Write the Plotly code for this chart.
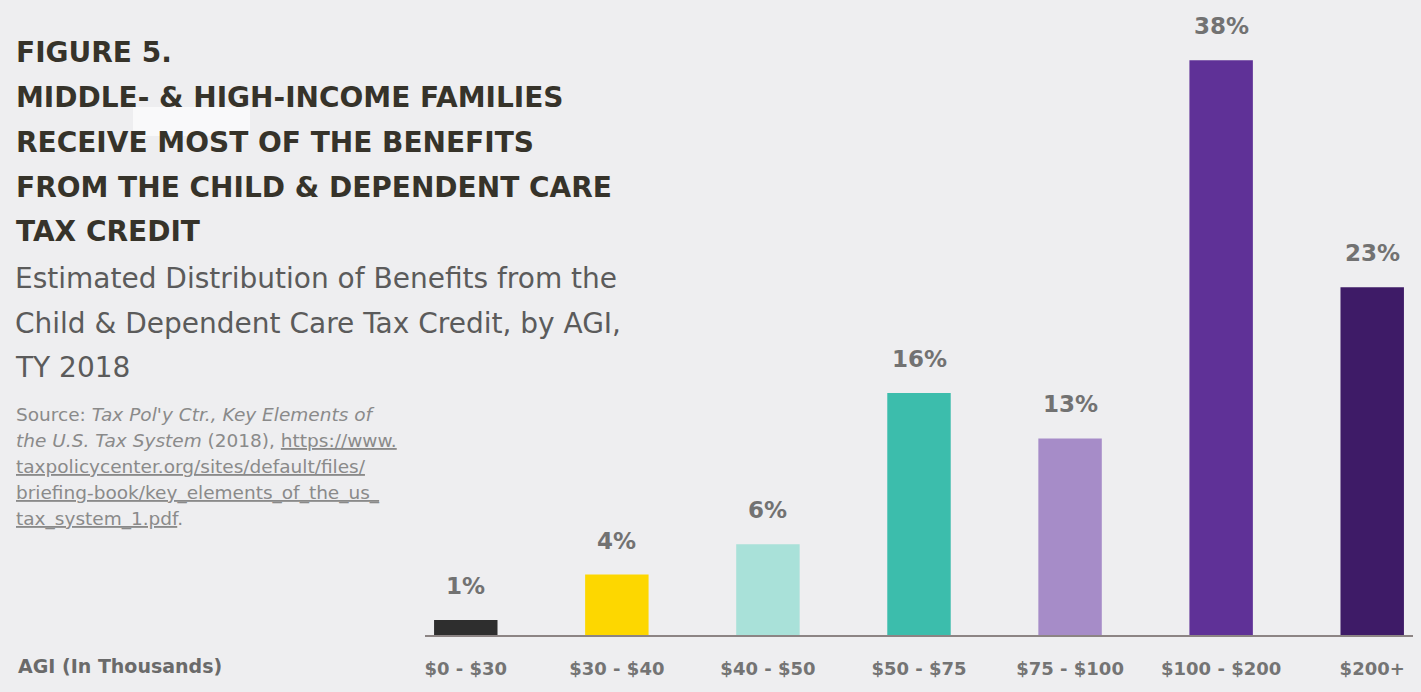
import plotly.graph_objects as go

# Share of the credit's benefits by adjusted gross income bracket
brackets = ["$0 - $30", "$30 - $40", "$40 - $50", "$50 - $75", "$75 - $100", "$100 - $200", "$200+"]
share_pct = [1, 4, 6, 16, 13, 38, 23]
bar_colors = ["#2e2e2e", "#fdd700", "#a9e1d9", "#3cbdac", "#a68cc8", "#5f3197", "#3e1b67"]

title_lines = [
    "FIGURE 5.",
    "MIDDLE- & HIGH-INCOME FAMILIES",
    "RECEIVE MOST OF THE BENEFITS",
    "FROM THE CHILD & DEPENDENT CARE",
    "TAX CREDIT",
]
subtitle_lines = [
    "Estimated Distribution of Benefits from the",
    "Child & Dependent Care Tax Credit, by AGI,",
    "TY 2018",
]
source_lines = [
    "Source: <i>Tax Pol'y Ctr., Key Elements of</i>",
    "<i>the U.S. Tax System</i> (2018), <u>https://www.</u>",
    "<u>taxpolicycenter.org/sites/default/files/</u>",
    "<u>briefing-book/key_elements_of_the_us_</u>",
    "<u>tax_system_1.pdf</u>.",
]
axis_title = "AGI (In Thousands)"

W, H = 1421, 692
BG = "#eeeef0"
SANS = "DejaVu Sans"


def py(px):
    """Convert a pixel row (from top) to paper y."""
    return 1 - px / H


x_idx = list(range(len(brackets)))

fig = go.Figure()
fig.add_trace(go.Bar(
    x=x_idx,
    y=share_pct,
    width=0.42,
    marker=dict(color=bar_colors, line=dict(width=0)),
    hoverinfo="skip",
))

annotations = []
# value labels above each bar
for i, v in zip(x_idx, share_pct):
    annotations.append(dict(
        x=i, y=v, xref="x", yref="y", text=f"{v}%", showarrow=False,
        yanchor="bottom", yshift=19,
        font=dict(family=SANS, size=23, color="#727272", weight="bold"),
    ))

title_y = [52, 97, 142, 187, 232]
for t, yy in zip(title_lines, title_y):
    annotations.append(dict(
        x=14 / W, y=py(yy), xref="paper", yref="paper", text=t, showarrow=False,
        xanchor="left", yanchor="middle",
        font=dict(family=SANS, size=28, color="#36332a", weight="bold"),
    ))

sub_y = [279, 323, 367]
for t, yy in zip(subtitle_lines, sub_y):
    annotations.append(dict(
        x=13 / W, y=py(yy), xref="paper", yref="paper", text=t, showarrow=False,
        xanchor="left", yanchor="middle",
        font=dict(family=SANS, size=28, color="#5b5b5b"),
    ))

src_y = [414, 440, 466, 493, 519]
for t, yy in zip(source_lines, src_y):
    annotations.append(dict(
        x=14 / W, y=py(yy), xref="paper", yref="paper", text=t, showarrow=False,
        xanchor="left", yanchor="middle",
        font=dict(family=SANS, size=18.5, color="#8a8a8a"),
    ))

annotations.append(dict(
    x=16 / W, y=py(666), xref="paper", yref="paper", text=axis_title, showarrow=False,
    xanchor="left", yanchor="middle",
    font=dict(family=SANS, size=19, color="#6a6a6a", weight="bold"),
))

fig.update_layout(
    width=W, height=H,
    margin=dict(l=0, r=0, t=0, b=0),
    paper_bgcolor=BG, plot_bgcolor=BG,
    showlegend=False,
    annotations=annotations,
    xaxis=dict(
        domain=[425 / W, 1413 / W],
        range=[-0.27, 6.27],
        tickmode="array", tickvals=x_idx, ticktext=brackets,
        showgrid=False, zeroline=False,
        showline=True, linecolor="#8c8484", linewidth=2,
        ticks="", ticklabelstandoff=16,
        tickfont=dict(family=SANS, size=18, color="#747474", weight="bold"),
        fixedrange=True,
    ),
    yaxis=dict(
        domain=[py(635), py(30)],
        range=[0, 40],
        visible=False, showgrid=False, zeroline=False,
        fixedrange=True,
    ),
    shapes=[
        # pale patch across the third title line
        dict(type="rect", xref="paper", yref="paper",
             x0=133 / W, x1=250 / W, y0=py(136), y1=py(107),
             fillcolor="#f9f9fa", line=dict(width=0), layer="above"),
    ],
)

fig.write_html("out.html", config={"displayModeBar": False})
